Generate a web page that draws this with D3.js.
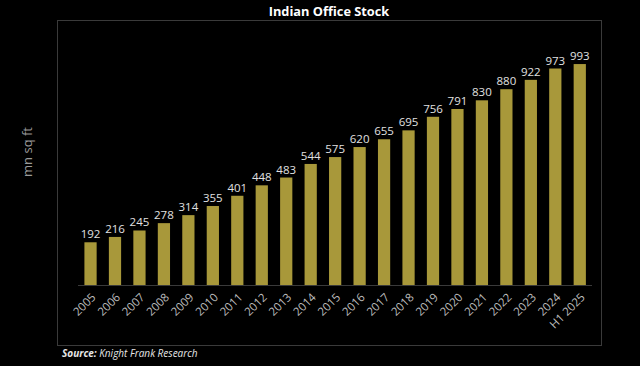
<!DOCTYPE html>
<html><head><meta charset="utf-8">
<script src="https://cdn.jsdelivr.net/npm/d3@7"></script>
<style>html,body{margin:0;padding:0;background:#000;}svg{display:block;}</style>
</head><body>
<svg id="c" width="640" height="366"></svg>
<script>
const categories = ["2005","2006","2007","2008","2009","2010","2011","2012","2013","2014","2015","2016","2017","2018","2019","2020","2021","2022","2023","2024","H1 2025"];
const stock = [192,216,245,278,314,355,401,448,483,544,575,620,655,695,756,791,830,880,922,973,993];
const titleText = "Indian Office Stock";
const yLabel = "mn sq ft";

const svg = d3.select("#c");
const font = "'Open Sans', 'Liberation Sans', sans-serif";

svg.append("rect").attr("x",0).attr("y",0).attr("width",640).attr("height",366).attr("fill","#000");
// frame
svg.append("rect").attr("x",57.5).attr("y",20.5).attr("width",544).attr("height",325)
  .attr("fill","none").attr("stroke","#3a3a3a").attr("stroke-width",1);

svg.append("text").attr("x",329).attr("y",16).attr("text-anchor","middle")
  .attr("fill","#fff").attr("font-family",font).attr("font-weight","bold").attr("font-size",12.8)
  .text(titleText);

const x = d3.scaleBand().domain(categories).range([78.3,592]).paddingInner(0.5).paddingOuter(0.25);
const y = d3.scaleLinear().domain([0,1100]).range([285,40.25]);

svg.append("g").selectAll("rect").data(stock).join("rect")
  .attr("x",(d,i)=>x(categories[i])).attr("width",x.bandwidth())
  .attr("y",d=>y(d)).attr("height",d=>y(0)-y(d)).attr("fill","#a8983a");

svg.append("g").selectAll("text").data(stock).join("text")
  .attr("x",(d,i)=>x(categories[i])+x.bandwidth()/2).attr("y",d=>y(d)-4)
  .attr("text-anchor","middle").attr("fill","#e0e0e0").attr("font-family",font).attr("font-size",11.5)
  .text(d=>d);

const xAxis = svg.append("g").attr("transform","translate(0,285)")
  .call(d3.axisBottom(x).tickSize(0).tickPadding(0));
xAxis.select(".domain").attr("stroke","#3a3a3a").attr("d","M78,0.5H592");
xAxis.selectAll("text").attr("fill","#bdbdbd").attr("font-family",font).attr("font-size",11.5)
  .attr("text-anchor","end").attr("dy",null).attr("y",0)
  .attr("transform","translate(6,13) rotate(-45)");

svg.append("text").attr("transform","translate(32,152) rotate(-90)").attr("text-anchor","middle")
  .attr("fill","#9a9a9a").attr("font-family",font).attr("font-size",13).text(yLabel);

const src = svg.append("text").attr("x",62).attr("y",357).attr("fill","#e6e6e6")
  .attr("font-family",font).attr("font-size",10).attr("font-style","italic");
src.append("tspan").attr("font-weight","bold").text("Source:");
src.append("tspan").text(" Knight Frank Research");
</script>
</body></html>
